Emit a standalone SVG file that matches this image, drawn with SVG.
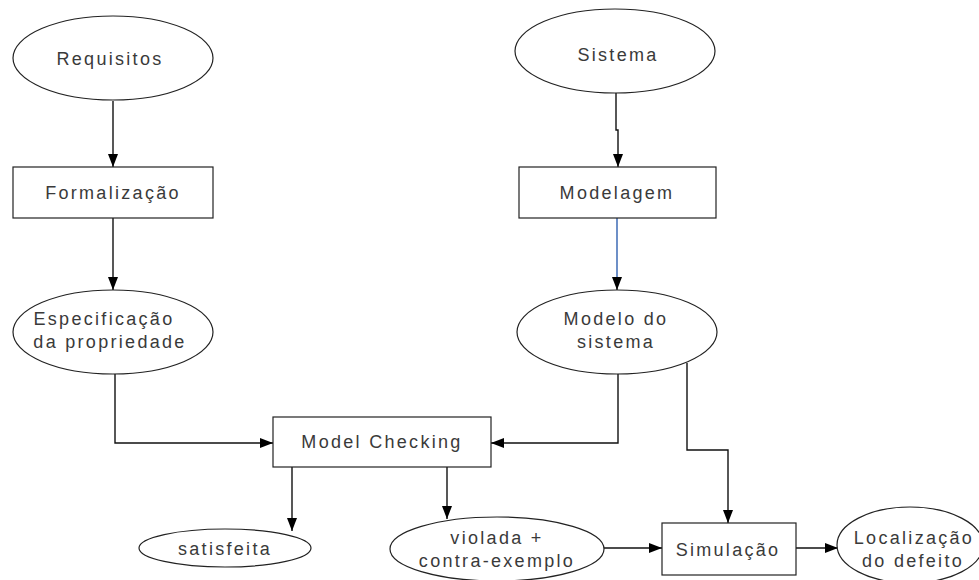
<svg xmlns="http://www.w3.org/2000/svg" width="979" height="580" viewBox="0 0 979 580">
<style>
.n{fill:#fff;stroke:#222;stroke-width:1.2}
.t{font-family:"Liberation Sans",Arial,sans-serif;font-size:18px;fill:#3a3a3a;letter-spacing:2.3px;text-anchor:middle}
.c{fill:none;stroke:#111;stroke-width:1.4}
.b{fill:none;stroke:#3060b0;stroke-width:1.4}
</style>
<defs>
<marker id="a" markerWidth="13" markerHeight="10" refX="13" refY="5" orient="auto" markerUnits="userSpaceOnUse">
<path d="M0,0 L13,5 L0,10 Z" fill="#000"/>
</marker>
</defs>
<rect width="979" height="580" fill="#fff"/>
<g id="connectors">
<path class="c" d="M113,101 V167" marker-end="url(#a)"/>
<path class="c" d="M616,93 V130 H618 V167" marker-end="url(#a)"/>
<path class="c" d="M113,218 V290" marker-end="url(#a)"/>
<path class="b" d="M617,218 V280"/>
<path class="c" d="M617,279 V290" marker-end="url(#a)"/>
<path class="c" d="M115,374 V443 H273" marker-end="url(#a)"/>
<path class="c" d="M618,374 V443 H491" marker-end="url(#a)"/>
<path class="c" d="M687,363 V450 H728 V523" marker-end="url(#a)"/>
<path class="c" d="M292,467 V531" marker-end="url(#a)"/>
<path class="c" d="M447,467 V519" marker-end="url(#a)"/>
<path class="c" d="M603,548 H662" marker-end="url(#a)"/>
<path class="c" d="M796,548 H838" marker-end="url(#a)"/>
</g>
<g id="requisitos"><ellipse class="n" cx="113" cy="58" rx="100" ry="42"/><text class="t" x="110" y="65">Requisitos</text></g>
<g id="sistema"><ellipse class="n" cx="615" cy="51" rx="100" ry="42"/><text class="t" x="618" y="61">Sistema</text></g>
<g id="formalizacao"><rect class="n" x="13" y="167" width="200" height="51"/><text class="t" x="113" y="199">Formalização</text></g>
<g id="modelagem"><rect class="n" x="519" y="167" width="197" height="51"/><text class="t" x="617" y="199">Modelagem</text></g>
<g id="especificacao"><ellipse class="n" cx="113" cy="332" rx="100" ry="42"/><text class="t" x="104" y="325">Especificação</text><text class="t" x="110" y="348">da propriedade</text></g>
<g id="modelo"><ellipse class="n" cx="617" cy="332" rx="100" ry="42"/><text class="t" x="616" y="325">Modelo do</text><text class="t" x="616" y="348">sistema</text></g>
<g id="modelchecking"><rect class="n" x="273" y="417" width="218" height="50"/><text class="t" x="382" y="448">Model Checking</text></g>
<g id="satisfeita"><ellipse class="n" cx="225" cy="548" rx="86" ry="19"/><text class="t" x="225" y="555">satisfeita</text></g>
<g id="violada"><ellipse class="n" cx="497" cy="549" rx="107" ry="32"/><text class="t" x="497" y="544">violada +</text><text class="t" x="497" y="567">contra-exemplo</text></g>
<g id="simulacao"><rect class="n" x="662" y="523" width="134" height="52"/><text class="t" x="728" y="556">Simulação</text></g>
<g id="localizacao"><ellipse class="n" cx="910" cy="545" rx="73" ry="38"/><text class="t" x="914" y="544">Localização</text><text class="t" x="913" y="567">do defeito</text></g>
</svg>
